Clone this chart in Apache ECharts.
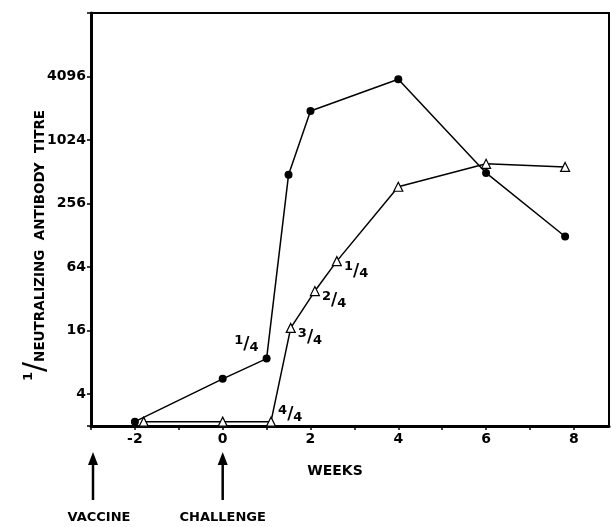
<!DOCTYPE html>
<html><head><meta charset="utf-8">
<script src="https://cdn.jsdelivr.net/npm/echarts@6/dist/echarts.min.js"></script>
<style>html,body{margin:0;padding:0;background:#fff}#c{width:611px;height:527px}</style>
</head><body><div id="c"></div>
<script>
const weeksCircle = [-2, 0, 1, 1.5, 2, 4, 6, 7.8];
const titreCircle = [2.2, 5.6, 8.7, 480, 1930, 3860, 500, 125];
const circleLabels = ['', '', '1/4', '', '', '', '', ''];
const weeksTriangle = [-1.8, 0, 1.1, 1.55, 2.1, 2.6, 4, 6, 7.8];
const titreTriangle = [2.2, 2.2, 2.2, 17, 38, 73, 370, 610, 570];
const triangleLabels = ['', '', '4/4', '3/4', '2/4', '1/4', '', '', ''];
const xTickLabels = [-2, 0, 2, 4, 6, 8];
const yTickLabels = [4, 16, 64, 256, 1024, 4096];
const eventWeeks = [-3, 0];
const eventLabels = ['VACCINE', 'CHALLENGE'];

const FONT = 'DejaVu Sans';
const fracRich = {
  n: {fontFamily: FONT, fontWeight: 'bold', fontSize: 13, color: '#000', padding: [0, 0, 8, 0]},
  s: {fontFamily: FONT, fontWeight: 'bold', fontSize: 17, color: '#000'},
  d: {fontFamily: FONT, fontWeight: 'bold', fontSize: 13, color: '#000', padding: [6, 0, 0, 0]}
};
function frac(t) { const p = t.split('/'); return '{n|' + p[0] + '}{s|/}{d|' + p[1] + '}'; }

function buildData(xs, ys, labels, side, offsetFor) {
  return xs.map((x, i) => {
    const item = {value: [x, ys[i]]};
    if (labels[i]) {
      item.label = {show: true, position: side, distance: 2, offset: offsetFor(i), formatter: frac(labels[i]), rich: fracRich};
    }
    return item;
  });
}

const chart = echarts.init(document.getElementById('c'));
chart.setOption({
  animation: false,
  backgroundColor: '#fff',
  grid: {left: 91, right: 2, top: 13, bottom: 101, show: true, borderColor: '#000', borderWidth: 2, outerBoundsMode: 'none', containLabel: false},
  xAxis: {
    type: 'value', min: -3, max: 8.8, interval: 1,
    splitLine: {show: false},
    axisLine: {onZero: false, lineStyle: {color: '#000', width: 3}},
    axisTick: {show: true, length: 4, lineStyle: {color: '#000', width: 1.5}},
    axisLabel: {
      color: '#000', fontFamily: FONT, fontWeight: 'bold', fontSize: 14, margin: 6,
      formatter: v => xTickLabels.includes(Math.round(v * 100) / 100) ? String(v) : '',
      showMinLabel: true, showMaxLabel: false
    },
    name: 'WEEKS', nameLocation: 'middle', nameGap: 38, nameMoveOverlap: false,
    nameTextStyle: {color: '#000', fontFamily: FONT, fontWeight: 'bold', fontSize: 14, padding: [0, 30, 0, 0]}
  },
  yAxis: {
    type: 'log', logBase: 4, min: 2, max: 16384,
    splitLine: {show: false},
    axisLine: {onZero: false, lineStyle: {color: '#000', width: 3}},
    axisTick: {show: true, length: 4, lineStyle: {color: '#000', width: 1.5}},
    axisLabel: {
      color: '#000', fontFamily: FONT, fontWeight: 'bold', fontSize: 14, margin: 5,
      formatter: v => yTickLabels.includes(Math.round(v)) ? String(Math.round(v)) : ''
    },
    name: '{one|1}{sl|/}{t|NEUTRALIZING  ANTIBODY  TITRE}',
    nameLocation: 'middle', nameRotate: 90, nameGap: 40, nameMoveOverlap: false,
    nameTextStyle: {
      padding: [0, 52, 0, 0],
      rich: {
        one: {fontFamily: FONT, fontWeight: 'bold', fontSize: 13, color: '#000', padding: [0, 0, 14, 0]},
        sl: {fontFamily: FONT, fontSize: 30, color: '#000'},
        t: {fontFamily: FONT, fontWeight: 'bold', fontSize: 13.5, color: '#000', padding: [8, 0, 0, 0]}
      }
    }
  },
  series: [
    {
      type: 'line', name: 'circles',
      data: buildData(weeksCircle, titreCircle, circleLabels, 'left', () => [-2, -14]),
      symbol: 'circle', symbolSize: 8,
      itemStyle: {color: '#000'},
      lineStyle: {color: '#000', width: 1.5},
      clip: false, z: 3
    },
    {
      type: 'line', name: 'triangles',
      data: buildData(weeksTriangle, titreTriangle, triangleLabels, 'right', i => (i === 2 ? [0, -7] : [0, 10])),
      symbol: 'triangle', symbolSize: 9,
      itemStyle: {color: '#fff', borderColor: '#000', borderWidth: 1.2},
      lineStyle: {color: '#000', width: 1.5},
      clip: false, z: 4
    }
  ]
});

const graphics = [];
eventWeeks.forEach((w, i) => {
  const x = chart.convertToPixel({xAxisIndex: 0}, w) + (i === 0 ? 2 : 0);
  graphics.push({type: 'line', shape: {x1: x, y1: 462, x2: x, y2: 500}, style: {stroke: '#000', lineWidth: 2.5}});
  graphics.push({type: 'polygon', shape: {points: [[x, 452], [x - 5, 465], [x + 5, 465]]}, style: {fill: '#000'}});
  graphics.push({type: 'text', x: x + (i === 0 ? 6 : 0), y: 518, style: {text: eventLabels[i], fill: '#000', font: 'bold 13px "DejaVu Sans"', align: 'center', verticalAlign: 'middle'}});
});
chart.setOption({graphic: graphics});
</script>
</body></html>
